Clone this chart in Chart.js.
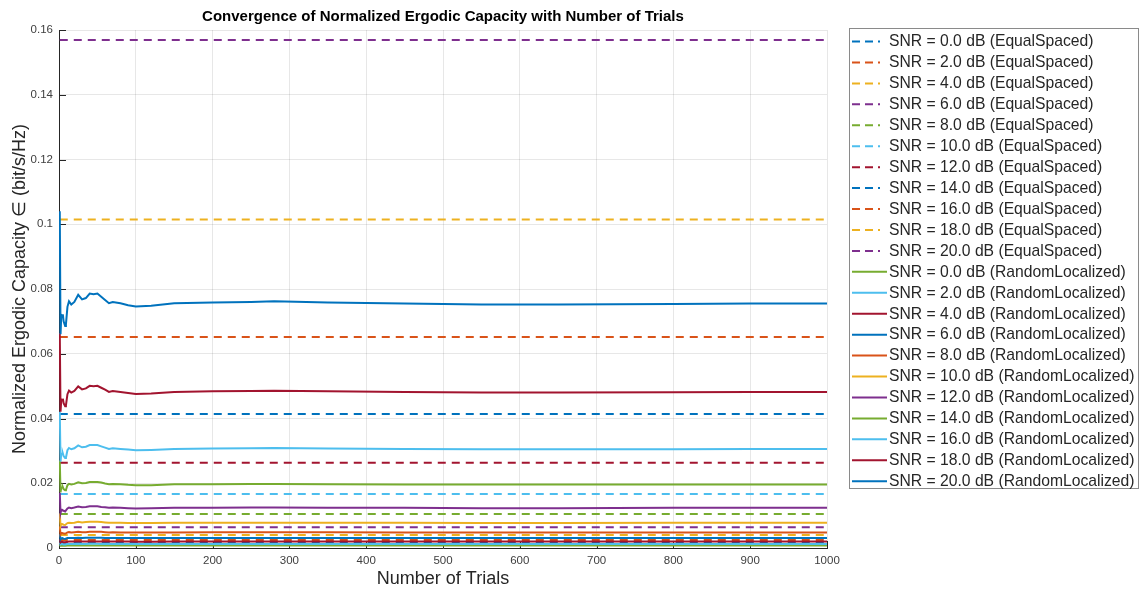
<!DOCTYPE html>
<html>
<head>
<meta charset="utf-8">
<title>Convergence of Normalized Ergodic Capacity</title>
<script src="https://cdn.jsdelivr.net/npm/chart.js@4.4.1/dist/chart.umd.min.js"></script>
<style>
  html, body { margin: 0; padding: 0; background: #ffffff; }
  #wrap { width: 1140px; height: 590px; position: relative; }
  canvas { display: block; }
</style>
</head>
<body>
<div id="wrap"><canvas id="chart" width="1140" height="590"></canvas></div>
<script>
// SNR points (dB) shared by both placement schemes
const snrDb = [0, 2, 4, 6, 8, 10, 12, 14, 16, 18, 20];

// Trial indices at which the running average is recorded
const trials = [1, 2, 3, 4, 5, 6, 8, 9, 11, 13, 16, 20, 25, 30, 35, 40, 45, 50, 55, 60, 65, 70, 80, 90,
                100, 120, 150, 200, 250, 280, 350, 450, 550, 650, 800, 900, 1000];

// Equal-spaced placement: deterministic capacity per SNR (bit/s/Hz)
const equalSpaced = [0.0016, 0.0025, 0.0040, 0.0064, 0.0105, 0.0167, 0.0263, 0.0414, 0.0652, 0.1015, 0.1569];

// Random-localized placement: running mean over trials, one array per SNR
const rl0  = [0.0011, 0.0007, 0.0007, 0.0007, 0.0007, 0.0007, 0.0007, 0.0007, 0.0008, 0.0008, 0.0008, 0.0008,
              0.0008, 0.0008, 0.0008, 0.0008, 0.0008, 0.0008, 0.0008, 0.0008, 0.0008, 0.0008, 0.0008, 0.0008,
              0.0008, 0.0008, 0.0008, 0.0008, 0.0008, 0.0008, 0.0008, 0.0008, 0.0008, 0.0008, 0.0008, 0.0008, 0.0008];
const rl2  = [0.0017, 0.0011, 0.0012, 0.0012, 0.0012, 0.0011, 0.0011, 0.0011, 0.0012, 0.0012, 0.0012, 0.0012,
              0.0013, 0.0012, 0.0012, 0.0013, 0.0013, 0.0013, 0.0012, 0.0012, 0.0012, 0.0012, 0.0012, 0.0012,
              0.0012, 0.0012, 0.0012, 0.0012, 0.0012, 0.0012, 0.0012, 0.0012, 0.0012, 0.0012, 0.0012, 0.0012, 0.0012];
const rl4  = [0.0027, 0.0017, 0.0019, 0.0019, 0.0019, 0.0018, 0.0018, 0.0018, 0.0019, 0.0020, 0.0020, 0.0020,
              0.0020, 0.0020, 0.0020, 0.0020, 0.0020, 0.0020, 0.0020, 0.0020, 0.0020, 0.0020, 0.0020, 0.0020,
              0.0019, 0.0019, 0.0020, 0.0020, 0.0020, 0.0020, 0.0020, 0.0020, 0.0020, 0.0020, 0.0020, 0.0020, 0.0020];
const rl6  = [0.0043, 0.0027, 0.0030, 0.0029, 0.0030, 0.0029, 0.0028, 0.0028, 0.0031, 0.0031, 0.0031, 0.0031,
              0.0032, 0.0031, 0.0032, 0.0032, 0.0032, 0.0032, 0.0032, 0.0031, 0.0031, 0.0031, 0.0031, 0.0031,
              0.0031, 0.0031, 0.0031, 0.0031, 0.0031, 0.0031, 0.0031, 0.0031, 0.0031, 0.0031, 0.0031, 0.0031, 0.0031];
const rl8  = [0.0067, 0.0042, 0.0046, 0.0046, 0.0046, 0.0045, 0.0044, 0.0044, 0.0048, 0.0049, 0.0048, 0.0049,
              0.0050, 0.0049, 0.0049, 0.0050, 0.0050, 0.0050, 0.0050, 0.0049, 0.0048, 0.0049, 0.0048, 0.0048,
              0.0048, 0.0048, 0.0048, 0.0049, 0.0049, 0.0049, 0.0049, 0.0048, 0.0048, 0.0048, 0.0048, 0.0048, 0.0048];
const rl10 = [0.0107, 0.0068, 0.0074, 0.0074, 0.0074, 0.0072, 0.0071, 0.0071, 0.0077, 0.0078, 0.0077, 0.0078,
              0.0081, 0.0079, 0.0080, 0.0081, 0.0081, 0.0081, 0.0080, 0.0079, 0.0078, 0.0078, 0.0078, 0.0077,
              0.0077, 0.0077, 0.0078, 0.0078, 0.0078, 0.0078, 0.0078, 0.0078, 0.0077, 0.0077, 0.0078, 0.0078, 0.0078];
const rl12 = [0.0171, 0.0108, 0.0118, 0.0118, 0.0118, 0.0115, 0.0113, 0.0113, 0.0122, 0.0125, 0.0123, 0.0125,
              0.0128, 0.0126, 0.0127, 0.0129, 0.0129, 0.0129, 0.0127, 0.0126, 0.0124, 0.0125, 0.0124, 0.0123,
              0.0122, 0.0123, 0.0124, 0.0124, 0.0125, 0.0125, 0.0124, 0.0124, 0.0123, 0.0123, 0.0124, 0.0124, 0.0124];
const rl14 = [0.0270, 0.0172, 0.0187, 0.0187, 0.0188, 0.0182, 0.0178, 0.0179, 0.0194, 0.0198, 0.0196, 0.0198,
              0.0203, 0.0200, 0.0201, 0.0204, 0.0204, 0.0204, 0.0202, 0.0199, 0.0197, 0.0198, 0.0197, 0.0195,
              0.0194, 0.0194, 0.0197, 0.0197, 0.0198, 0.0198, 0.0197, 0.0196, 0.0196, 0.0196, 0.0196, 0.0196, 0.0196];
const rl16 = [0.0421, 0.0267, 0.0292, 0.0291, 0.0292, 0.0284, 0.0278, 0.0279, 0.0302, 0.0309, 0.0305, 0.0308,
              0.0317, 0.0311, 0.0313, 0.0318, 0.0318, 0.0318, 0.0314, 0.0310, 0.0306, 0.0308, 0.0306, 0.0304,
              0.0302, 0.0303, 0.0306, 0.0307, 0.0308, 0.0309, 0.0307, 0.0306, 0.0305, 0.0305, 0.0305, 0.0306, 0.0306];
const rl18 = [0.0664, 0.0421, 0.0459, 0.0458, 0.0461, 0.0447, 0.0438, 0.0440, 0.0475, 0.0486, 0.0480, 0.0485,
              0.0499, 0.0490, 0.0493, 0.0501, 0.0500, 0.0501, 0.0495, 0.0489, 0.0482, 0.0485, 0.0482, 0.0479,
              0.0476, 0.0477, 0.0482, 0.0484, 0.0485, 0.0486, 0.0484, 0.0482, 0.0480, 0.0480, 0.0481, 0.0482, 0.0482];
const rl20 = [0.1040, 0.0660, 0.0720, 0.0718, 0.0722, 0.0700, 0.0686, 0.0690, 0.0745, 0.0762, 0.0752, 0.0760,
              0.0782, 0.0768, 0.0772, 0.0786, 0.0784, 0.0786, 0.0776, 0.0766, 0.0756, 0.0760, 0.0756, 0.0750,
              0.0746, 0.0748, 0.0756, 0.0758, 0.0760, 0.0762, 0.0758, 0.0755, 0.0752, 0.0752, 0.0754, 0.0755, 0.0755];
const randomLocalized = [rl0, rl2, rl4, rl6, rl8, rl10, rl12, rl14, rl16, rl18, rl20];

// Axis ranges
const xRange = [0, 1000, 100];
const yRange = [0, 0.16, 0.02];

// MATLAB-style colour order
const palette = ['#0072BD', '#D95319', '#EDB120', '#7E2F8E', '#77AC30', '#4DBEEE', '#A2142F'];

const FONT = '"Liberation Sans", Arial, Helvetica, sans-serif';
const TEXT = '#262626';

const datasets = [];
let k = 0;
snrDb.forEach((s, i) => {
  datasets.push({
    label: 'SNR = ' + s.toFixed(1) + ' dB (EqualSpaced)',
    data: trials.map(t => ({ x: t, y: equalSpaced[i] })),
    borderColor: palette[k % 7],
    borderWidth: 2,
    borderDash: [8, 6],
    pointRadius: 0,
    order: 21 - k
  });
  k++;
});
snrDb.forEach((s, i) => {
  datasets.push({
    label: 'SNR = ' + s.toFixed(1) + ' dB (RandomLocalized)',
    data: trials.map((t, j) => ({ x: t, y: randomLocalized[i][j] })),
    borderColor: palette[k % 7],
    borderWidth: 2,
    pointRadius: 0,
    order: 21 - k
  });
  k++;
});

// Inward tick marks on the left and bottom axes
const innerTicks = {
  id: 'innerTicks',
  beforeDatasetsDraw(chart) {
    const { ctx, chartArea: a, scales: { x, y } } = chart;
    ctx.save();
    ctx.strokeStyle = TEXT;
    ctx.lineWidth = 1;
    ctx.beginPath();
    y.ticks.forEach(t => {
      const py = Math.round(y.getPixelForValue(t.value)) + 0.5;
      ctx.moveTo(a.left, py); ctx.lineTo(a.left + 7, py);
    });
    x.ticks.forEach(t => {
      const px = Math.round(x.getPixelForValue(t.value)) + 0.5;
      ctx.moveTo(px, a.bottom); ctx.lineTo(px, a.bottom - 7);
    });
    ctx.stroke();
    ctx.restore();
  }
};

// Boxed legend to the right of the axes
const boxLegend = {
  id: 'boxLegend',
  afterDraw(chart) {
    const { ctx } = chart;
    const L = 849, T = 28, R = 1138, B = 488;
    const first = 41.5, step = 20.94;
    ctx.save();
    ctx.fillStyle = '#ffffff';
    ctx.fillRect(L, T, R - L, B - T);
    ctx.strokeStyle = '#8a8a8a';
    ctx.lineWidth = 1;
    ctx.strokeRect(L + 0.5, T + 0.5, R - L, B - T);
    ctx.font = '15.7px ' + FONT;
    ctx.textBaseline = 'middle';
    ctx.textAlign = 'left';
    chart.data.datasets.forEach((ds, i) => {
      const cy = first + i * step;
      ctx.beginPath();
      ctx.strokeStyle = ds.borderColor;
      ctx.lineWidth = 2;
      ctx.setLineDash(ds.borderDash ? [8, 5] : []);
      ctx.moveTo(852, cy);
      ctx.lineTo(ds.borderDash ? 880 : 887, cy);
      ctx.stroke();
      ctx.setLineDash([]);
      ctx.fillStyle = TEXT;
      ctx.fillText(ds.label, 889, cy + 0.5);
    });
    ctx.restore();
  }
};

new Chart(document.getElementById('chart'), {
  type: 'line',
  data: { datasets },
  plugins: [innerTicks, boxLegend],
  options: {
    responsive: false,
    animation: false,
    devicePixelRatio: 1,
    layout: { padding: { left: 0, right: 313, top: 0, bottom: 0 } },
    plugins: {
      legend: { display: false },
      tooltip: { enabled: false },
      title: {
        display: true,
        fullSize: false,
        text: 'Convergence of Normalized Ergodic Capacity with Number of Trials',
        color: '#000000',
        font: { family: FONT, size: 15, weight: 'bold' },
        padding: { top: 8, bottom: 4 }
      }
    },
    scales: {
      x: {
        type: 'linear',
        min: xRange[0], max: xRange[1],
        afterFit(s) { s.height = 42; },
        ticks: {
          stepSize: xRange[2],
          color: '#404040',
          font: { family: FONT, size: 11.5 },
          padding: 6,
          maxRotation: 0,
          callback: v => String(v)
        },
        grid: { color: 'rgba(38,38,38,0.11)', drawTicks: false },
        border: { display: true, color: TEXT, width: 1 },
        title: {
          display: true,
          text: 'Number of Trials',
          color: TEXT,
          font: { family: FONT, size: 18 },
          padding: { top: 0, bottom: 0 }
        }
      },
      y: {
        type: 'linear',
        min: yRange[0], max: yRange[1],
        afterFit(s) { s.width = 59; },
        ticks: {
          stepSize: yRange[2],
          color: '#404040',
          font: { family: FONT, size: 11.5 },
          padding: 6,
          callback: v => String(+v.toFixed(4))
        },
        grid: { color: 'rgba(38,38,38,0.11)', drawTicks: false },
        border: { display: true, color: TEXT, width: 1 },
        title: {
          display: true,
          text: 'Normalized Ergodic Capacity \u2208 (bit/s/Hz)',
          color: TEXT,
          font: { family: FONT, size: 18 },
          padding: { top: 9, bottom: 0 }
        }
      }
    }
  }
});
</script>
</body>
</html>
